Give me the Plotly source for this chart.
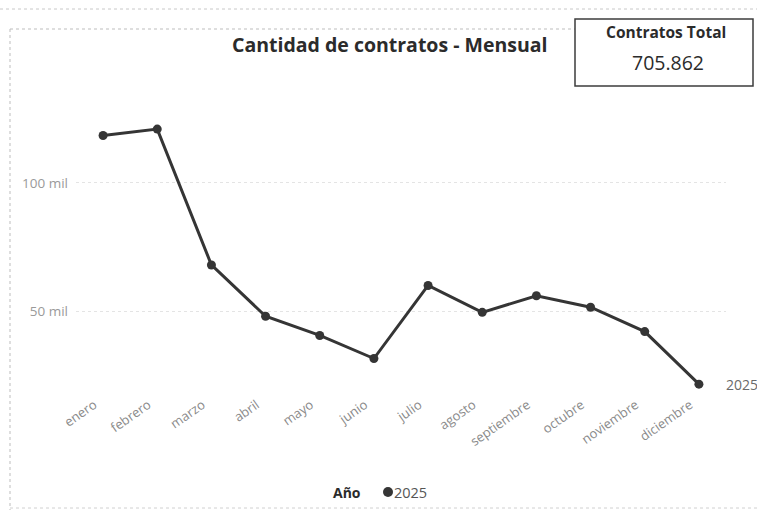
import plotly.graph_objects as go

meses = ["enero", "febrero", "marzo", "abril", "mayo", "junio", "julio",
         "agosto", "septiembre", "octubre", "noviembre", "diciembre"]
contratos_2025 = [118500, 121000, 68000, 48000, 40500, 31500, 60000,
                  49500, 56000, 51500, 42000, 21500]
serie = "2025"
legend_title = "Año"
total_label = "Contratos Total"
total_value = "705.862"
y_tickvals = [50000, 100000]
y_ticktext = ["50 mil", "100 mil"]

W, H = 757, 510
L, R, T, B = 76, 31, 106, 122
PW, PH = W - L - R, H - T - B


def px(x):
    return (x - L) / PW


def py(y):
    return (H - B - y) / PH


FONT = "Open Sans"
DARK = "#353535"

fig = go.Figure()
fig.add_trace(go.Scatter(
    x=meses, y=contratos_2025, mode="lines+markers", name=serie,
    line=dict(color=DARK, width=3),
    marker=dict(color=DARK, size=9),
    showlegend=False, cliponaxis=False,
))

shapes = [
    dict(type="line", xref="paper", yref="paper", x0=px(0), x1=px(W), y0=py(9), y1=py(9),
         line=dict(color="#c8c8c8", width=1, dash="dot")),
    dict(type="line", xref="paper", yref="paper", x0=px(10), x1=px(575), y0=py(29), y1=py(29),
         line=dict(color="#bdbdbd", width=1, dash="dot")),
    dict(type="line", xref="paper", yref="paper", x0=px(10), x1=px(10), y0=py(29), y1=py(H),
         line=dict(color="#bdbdbd", width=1, dash="dot")),
    dict(type="line", xref="paper", yref="paper", x0=px(10), x1=px(W), y0=py(508), y1=py(508),
         line=dict(color="#d0d0d0", width=1, dash="dot")),
    dict(type="rect", xref="paper", yref="paper", x0=px(575), x1=px(753), y0=py(86), y1=py(19),
         line=dict(color="#3c3c3c", width=1.5), fillcolor="white"),
    # legend marker
    dict(type="circle", xref="paper", yref="paper", x0=px(383), x1=px(393), y0=py(497), y1=py(487),
         line=dict(color=DARK, width=0), fillcolor=DARK),
]

annotations = [
    dict(text="<b>Cantidad de contratos - Mensual</b>", x=px(390), y=py(45), xref="paper", yref="paper",
         showarrow=False, font=dict(family=FONT, size=19.5, color="#2b2b2b"), xanchor="center", yanchor="middle"),
    dict(text="<b>" + total_label + "</b>", x=px(666), y=py(32), xref="paper", yref="paper",
         showarrow=False, font=dict(family=FONT, size=15.5, color="#2b2b2b"), xanchor="center", yanchor="middle"),
    dict(text=total_value, x=px(668), y=py(62), xref="paper", yref="paper",
         showarrow=False, font=dict(family=FONT, size=19.5, color="#2b2b2b"), xanchor="center", yanchor="middle"),
    dict(text=serie, x=meses[-1], y=contratos_2025[-1], xref="x", yref="y",
         showarrow=False, xanchor="left", yanchor="middle", xshift=25,
         font=dict(family=FONT, size=14, color="#6a6a6a")),
    dict(text="<b>" + legend_title + "</b>", x=px(363), y=py(492), xref="paper", yref="paper",
         showarrow=False, xanchor="right", yanchor="middle",
         font=dict(family=FONT, size=14, color="#2b2b2b")),
    dict(text=serie, x=px(392), y=py(492), xref="paper", yref="paper",
         showarrow=False, xanchor="left", yanchor="middle",
         font=dict(family=FONT, size=14.5, color="#555")),
]

fig.update_layout(
    width=W, height=H,
    margin=dict(l=L, r=R, t=T, b=B, autoexpand=False),
    paper_bgcolor="white", plot_bgcolor="white",
    font=dict(family=FONT, color="#888"),
    shapes=shapes, annotations=annotations,
    showlegend=False,
)
fig.update_xaxes(
    type="category", range=[-0.5, len(meses) - 0.5],
    showgrid=False, zeroline=False, showline=False,
    tickangle=-35, tickfont=dict(family=FONT, size=13, color="#8a8a8a"),
    ticks="", ticklabelstandoff=6, ticklabelshift=-9,
)
fig.update_yaxes(
    range=[20000, 130000], tickvals=y_tickvals, ticktext=y_ticktext,
    showgrid=True, gridcolor="#e4e4e4", griddash="dot", gridwidth=1,
    zeroline=False, showline=False, ticks="", ticklabelstandoff=7,
    tickfont=dict(family=FONT, size=13.5, color="#9a9a9a"),
)

fig.write_html("out.html", config={"displayModeBar": False},
               post_script="document.body.style.margin='0';document.body.style.overflow='hidden';")
